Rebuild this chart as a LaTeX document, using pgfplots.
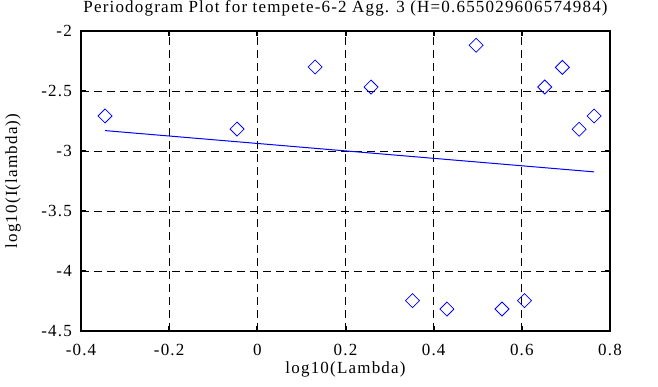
\documentclass[border=0pt]{standalone}
\usepackage{pgfplots}
\pgfplotsset{compat=1.18}
\usepackage{fontspec}
\setmainfont{Liberation Serif}[LetterSpace=7]
\begin{document}
\fontsize{17bp}{20bp}\selectfont
\begin{tikzpicture}
\useasboundingbox (-81bp,-56bp) rectangle (577bp,331bp);
\begin{axis}[
  at={(0,0)}, anchor=south west,
  scale only axis, width=529bp, height=300bp,
  xmin=-0.4, xmax=0.8, ymin=-4.5, ymax=-2,
  xtick={-0.4,-0.2,0,0.2,0.4,0.6,0.8},
  ytick={-4.5,-4,-3.5,-3,-2.5,-2},
  xticklabels={-0.4,-0.2,0,0.2,0.4,0.6,0.8},
  yticklabels={-4.5,-4,-3.5,-3,-2.5,-2},
  tick align=inside, major tick length=5bp,
  tick style={black, line width=2bp},
  axis line style={black, line width=2bp},
  grid=major,
  major grid style={black, line width=0.8bp, dash pattern=on 8bp off 5bp},
  title={Periodogram Plot for tempete-6-2 Agg. 3 (H=0.655029606574984)},
  every axis title/.style={at={(axis description cs:0.5,1.06)}, anchor=base, inner sep=0pt},
  xlabel={log10(Lambda)},
  ylabel={log10(I(lambda))},
  xlabel style={at={(axis description cs:0.5,-0.143)}, anchor=base, inner sep=0pt},
  ylabel style={at={(axis description cs:-0.1285,0.5)}, anchor=center, inner sep=0pt},
  xticklabel style={anchor=base, yshift=-24bp, inner sep=0pt},
  yticklabel style={anchor=east, xshift=-9bp, inner sep=0pt},
  /pgf/number format/assume math mode=true,
]
\addplot[only marks, blue, mark=square, mark size=4.95bp, mark options={rotate=45, line width=0.8bp, fill=none}]
  coordinates {
  (-0.3455,-2.708)
  (-0.046,-2.817)
  (0.131,-2.300)
  (0.258,-2.467)
  (0.352,-4.247)
  (0.430,-4.317)
  (0.4963,-2.119)
  (0.555,-4.317)
  (0.606,-4.247)
  (0.652,-2.467)
  (0.692,-2.303)
  (0.730,-2.819)
  (0.764,-2.708)
  };
\addplot[blue, line width=1bp, no marks] coordinates {(-0.3455,-2.830) (0.764,-3.174)};
\end{axis}
\end{tikzpicture}
\end{document}
